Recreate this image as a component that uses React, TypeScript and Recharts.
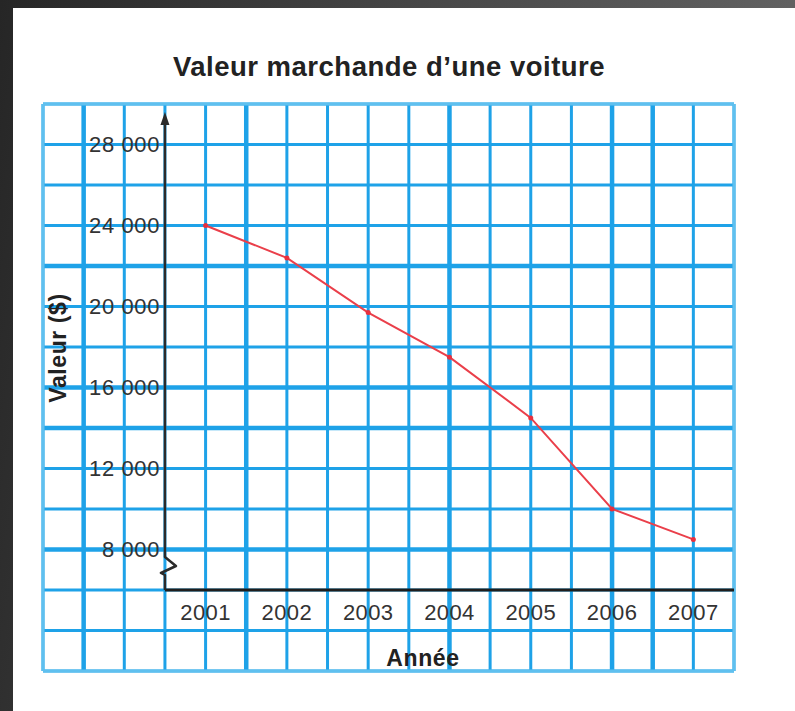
import React from 'react';
import { LineChart, Line, XAxis, YAxis, CartesianGrid, ReferenceLine } from 'recharts';

const TITLE = "Valeur marchande d\u2019une voiture";
const Y_LABEL = 'Valeur ($)';
const X_LABEL = 'Année';

const YEARS = [2001, 2002, 2003, 2004, 2005, 2006, 2007];
const VALUES = [24000, 22400, 19700, 17500, 14500, 10000, 8500];
const Y_TICKS = [8000, 12000, 16000, 20000, 24000, 28000];
const X_TICKS = [2001, 2002, 2003, 2004, 2005, 2006, 2007];

// grid paper lines (in data units)
const H_GRID = [2000, 4000, 6000, 8000, 10000, 12000, 14000, 16000, 18000, 20000, 22000, 24000, 26000, 28000, 30000];
const V_GRID = [1999, 1999.5, 2000, 2000.5, 2001, 2001.5, 2002, 2002.5, 2003, 2003.5, 2004, 2004.5, 2005, 2005.5, 2006, 2006.5, 2007, 2007.5];
const H_THICK = [8000, 14000, 16000, 22000];
const V_THICK = [1999.5, 2001.5, 2004, 2006, 2006.5];

const X_DOMAIN = [1999, 2007.5];
const Y_DOMAIN = [2000, 30000];
const AXIS_ORIGIN = { x: 2000.5, y: 6000 };
const AXIS_TOP = 29600;

const data = YEARS.map((year, i) => ({ year, value: VALUES[i] }));

const BLUE = '#1ea2e8';
const FONT = '"Liberation Sans", Arial, Helvetica, sans-serif';

const fmt = (v: number) => String(v).replace(/\B(?=(\d{3})+(?!\d))/g, ' ');

const renderYTick = (props: any) => {
  const { x, y, payload } = props;
  return (
    <text x={x + 117} y={y} dy="0.36em" textAnchor="end" fontFamily={FONT} fontSize={22} fill="#333" letterSpacing={0.6}>
      {fmt(payload.value)}
    </text>
  );
};

const renderXTick = (props: any) => {
  const { x, y, payload } = props;
  return (
    <text x={x} y={y - 59} dy="0.36em" textAnchor="middle" fontFamily={FONT} fontSize={22} fill="#333" letterSpacing={0.4}>
      {payload.value}
    </text>
  );
};

const YAxisShape = (props: any) => {
  const { x1, y1, y2 } = props;
  const x = x1;
  const bottom = Math.max(y1, y2);
  const top = Math.min(y1, y2);
  return (
    <g>
      <path
        d={`M${x},${top + 10} V${bottom - 33} L${x + 11},${bottom - 24} L${x - 4},${bottom - 17} L${x},${bottom - 15} V${bottom}`}
        fill="none"
        stroke="#2a2a2a"
        strokeWidth={2.5}
        strokeLinejoin="round"
      />
      <path d={`M${x},${top} L${x - 4.5},${top + 13} L${x + 4.5},${top + 13} Z`} fill="#2a2a2a" />
    </g>
  );
};

export default function App() {
  return (
    <div
      style={{
        position: 'absolute',
        left: 0,
        top: 0,
        width: 795,
        height: 711,
        background: 'linear-gradient(100deg, #262626 0%, #4a4a4a 50%, #6a6a6a 100%)',
        overflow: 'hidden',
      }}
    >
      <div style={{ position: 'absolute', left: 13, top: 8, width: 782, height: 703, background: '#ffffff' }} />
      <div
        style={{
          position: 'absolute',
          left: 0,
          top: 51,
          width: 778,
          textAlign: 'center',
          fontFamily: FONT,
          fontWeight: 'bold',
          fontSize: 27.5,
          color: '#222',
          letterSpacing: 0.5,
        }}
      >
        {TITLE}
      </div>
      <div style={{ position: 'absolute', left: 0, top: 0 }}>
        <LineChart width={795} height={711} data={data} margin={{ top: 104, right: 61, bottom: 10, left: 13 }}>
          <CartesianGrid
            horizontalValues={H_GRID}
            verticalValues={V_GRID}
            stroke={BLUE}
            strokeWidth={3}
            strokeOpacity={1}
          />
          <XAxis
            dataKey="year"
            type="number"
            domain={X_DOMAIN}
            ticks={X_TICKS}
            height={30}
            tickSize={0}
            tickMargin={0}
            tickLine={false}
            axisLine={false}
            tick={renderXTick}
            interval={0}
            allowDataOverflow
          />
          <YAxis
            type="number"
            domain={Y_DOMAIN}
            ticks={Y_TICKS}
            width={30}
            tickSize={0}
            tickMargin={0}
            tickLine={false}
            axisLine={false}
            tick={renderYTick}
            interval={0}
            allowDataOverflow
          />
          {H_THICK.map((v) => (
            <ReferenceLine key={'h' + v} y={v} stroke={BLUE} strokeWidth={4.5} />
          ))}
          {V_THICK.map((v) => (
            <ReferenceLine key={'v' + v} x={v} stroke={BLUE} strokeWidth={4.5} />
          ))}
          <ReferenceLine x={X_DOMAIN[0]} stroke="#5fc0ef" strokeWidth={3} />
          <ReferenceLine x={X_DOMAIN[1]} stroke="#5fc0ef" strokeWidth={3} />
          <ReferenceLine y={Y_DOMAIN[0]} stroke="#5fc0ef" strokeWidth={3} />
          <ReferenceLine y={Y_DOMAIN[1]} stroke="#5fc0ef" strokeWidth={3} />
          <ReferenceLine
            segment={[{ x: AXIS_ORIGIN.x, y: AXIS_ORIGIN.y }, { x: X_DOMAIN[1], y: AXIS_ORIGIN.y }]}
            stroke="#1e1e1e"
            strokeWidth={3}
          />
          <ReferenceLine
            segment={[{ x: AXIS_ORIGIN.x, y: AXIS_ORIGIN.y }, { x: AXIS_ORIGIN.x, y: AXIS_TOP }]}
            shape={<YAxisShape />}
          />
          <Line
            dataKey="value"
            type="linear"
            stroke="#ea3f4a"
            strokeWidth={2}
            dot={{ r: 2.5, fill: '#e8303e', stroke: '#e8303e', strokeWidth: 0 }}
            isAnimationActive={false}
          />
        </LineChart>
      </div>
      <div
        style={{
          position: 'absolute',
          left: 58,
          top: 348,
          transform: 'translate(-50%, -50%) rotate(-90deg)',
          fontFamily: FONT,
          fontWeight: 'bold',
          fontSize: 23,
          color: '#222',
          whiteSpace: 'nowrap',
          letterSpacing: 0.6,
        }}
      >
        {Y_LABEL}
      </div>
      <div
        style={{
          position: 'absolute',
          left: 423,
          top: 658,
          transform: 'translate(-50%, -50%)',
          fontFamily: FONT,
          fontWeight: 'bold',
          fontSize: 23,
          color: '#222',
          whiteSpace: 'nowrap',
          letterSpacing: 0.6,
        }}
      >
        {X_LABEL}
      </div>
    </div>
  );
}
